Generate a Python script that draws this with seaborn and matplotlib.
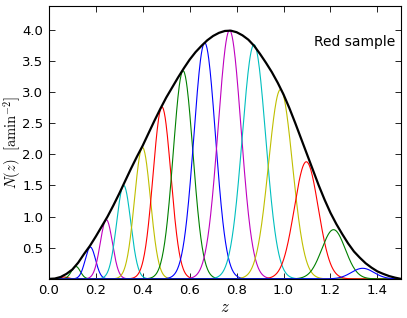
import numpy as np
import pandas as pd
import seaborn as sns
import matplotlib.pyplot as plt

# bin centres, peak heights, widths
centres = [0.065, 0.115, 0.177, 0.245, 0.319, 0.399, 0.482, 0.572, 0.664, 0.770,
           0.874, 0.987, 1.097, 1.213, 1.337]
heights = [0.03, 0.20, 0.51, 0.95, 1.50, 2.11, 2.76, 3.34, 3.79, 3.99,
           3.76, 3.04, 1.88, 0.79, 0.17]
widths = [0.017, 0.019, 0.022, 0.026, 0.030, 0.034, 0.038, 0.042, 0.046, 0.049,
          0.050, 0.051, 0.051, 0.050, 0.048]
colours = ['r', 'g', 'b', 'm', 'c', 'y'] * 3

# total N(z) envelope
env_z = [0.000, 0.025, 0.050, 0.075, 0.100, 0.125, 0.150, 0.175, 0.200, 0.225,
         0.250, 0.275, 0.300, 0.325, 0.350, 0.375, 0.400, 0.425, 0.450, 0.475,
         0.500, 0.525, 0.550, 0.575, 0.600, 0.625, 0.650, 0.675, 0.700, 0.725,
         0.750, 0.775, 0.800, 0.825, 0.850, 0.875, 0.900, 0.925, 0.950, 0.975,
         1.000, 1.025, 1.050, 1.075, 1.100, 1.125, 1.150, 1.175, 1.200, 1.225,
         1.250, 1.275, 1.300, 1.325, 1.350, 1.375, 1.400, 1.425, 1.450, 1.475, 1.500]
env_n = [0.000, 0.005, 0.030, 0.080, 0.150, 0.260, 0.400, 0.530, 0.680, 0.840,
         1.000, 1.180, 1.370, 1.570, 1.770, 1.960, 2.140, 2.340, 2.540, 2.730,
         2.910, 3.070, 3.230, 3.380, 3.520, 3.640, 3.740, 3.830, 3.900, 3.950,
         3.980, 3.985, 3.960, 3.910, 3.840, 3.740, 3.610, 3.470, 3.320, 3.150,
         2.960, 2.740, 2.500, 2.250, 2.000, 1.750, 1.500, 1.270, 1.060, 0.880,
         0.720, 0.570, 0.440, 0.340, 0.250, 0.180, 0.120, 0.080, 0.045, 0.020, 0.000]

sns.set_style('ticks')
plt.rcParams['mathtext.fontset'] = 'cm'
plt.rcParams['font.family'] = ['DejaVu Sans']
plt.rcParams['xtick.direction'] = 'in'
plt.rcParams['ytick.direction'] = 'in'
plt.rcParams['text.color'] = 'k'
plt.rcParams['axes.labelcolor'] = 'k'
plt.rcParams['xtick.color'] = 'k'
plt.rcParams['ytick.color'] = 'k'

z = np.linspace(0, 1.5, 800)
rows = []
for i, (c, h, s) in enumerate(zip(centres, heights, widths)):
    rows.append(pd.DataFrame({'z': z, 'n': h * np.exp(-0.5 * ((z - c) / s) ** 2), 'bin': i}))
bins = pd.concat(rows)

fig = plt.figure(figsize=(4.07, 3.18), dpi=100)
ax = fig.add_axes([0.12, 0.123, 0.865, 0.858])
sns.lineplot(data=bins, x='z', y='n', hue='bin', palette=colours[:len(centres)],
             lw=0.8, legend=False, ax=ax)
sns.lineplot(x=env_z, y=env_n, color='k', lw=1.6, ax=ax)

ax.set_xlim(0, 1.5)
ax.set_ylim(0, 4.38)
ax.set_xticks([0.0, 0.2, 0.4, 0.6, 0.8, 1.0, 1.2, 1.4])
ax.set_yticks([0.5, 1.0, 1.5, 2.0, 2.5, 3.0, 3.5, 4.0])
ax.tick_params(top=True, right=True, labelsize=9.5, length=4, width=0.6, pad=4)
for sp in ax.spines.values():
    sp.set_linewidth(0.8)
    sp.set_color('k')
ax.set_xlabel('$z$', fontsize=12)
ax.set_ylabel(r'$N(z)\ \ [\mathrm{amin}^{-2}]$', fontsize=10.5)
ax.xaxis.set_label_coords(0.5, -0.07)
ax.yaxis.set_label_coords(-0.072, 0.5)
ax.text(0.985, 0.87, 'Red sample', transform=ax.transAxes, ha='right', va='center', fontsize=10)

fig.savefig('out.png', dpi=100)
